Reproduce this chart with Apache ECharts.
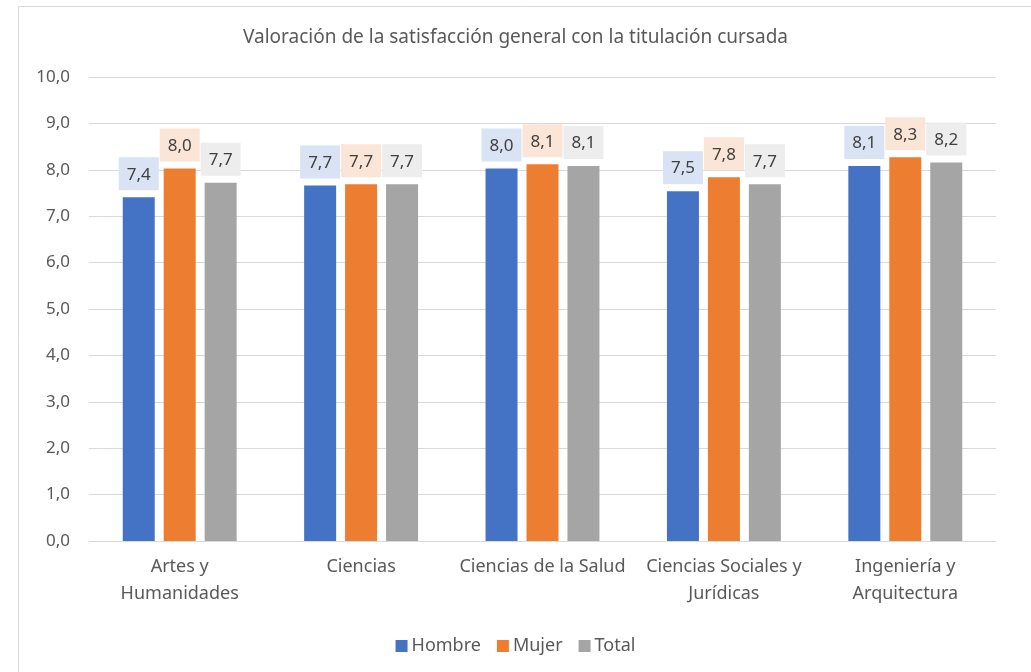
<!DOCTYPE html>
<html>
<head>
<meta charset="utf-8">
<script src="https://cdn.jsdelivr.net/npm/echarts@6/dist/echarts.min.js"></script>
<style>html,body{margin:0;padding:0;background:#fff;}#c{width:1031px;height:672px;}</style>
</head>
<body>
<div id="c"></div>
<script>
const categories = ['Artes y\nHumanidades', 'Ciencias', 'Ciencias de la Salud', 'Ciencias Sociales y\nJurídicas', 'Ingeniería y\nArquitectura'];
const hombre = [7.41, 7.66, 8.03, 7.54, 8.08];
const mujer = [8.03, 7.69, 8.12, 7.84, 8.27];
const total = [7.72, 7.69, 8.08, 7.69, 8.16];
const seriesNames = ['Hombre', 'Mujer', 'Total'];
const colors = ['#4472C4', '#ED7D31', '#A5A5A5'];
const labelBg = ['#DAE3F3', '#FBE5D6', '#EDEDED'];
const titleText = 'Valoración de la satisfacción general con la titulación cursada';

const FONT = 'Noto Sans';
const chart = echarts.init(document.getElementById('c'));
function mk(name, data, i) {
  return {
    name: name, type: 'bar', data: data,
    barWidth: 32, barGap: '28%',
    itemStyle: { color: colors[i] },
    label: {
      show: true, position: 'top', distance: 7,
      formatter: p => p.value.toFixed(1).replace('.', ','),
      color: '#404040', fontSize: 17, fontFamily: FONT,
      backgroundColor: labelBg[i], padding: [8, 8, 6, 8], lineHeight: 19
    }
  };
}
chart.setOption({
  animation: false,
  textStyle: { fontFamily: FONT },
  title: {
    text: titleText, left: 'center', top: 23,
    textStyle: { fontSize: 19, fontWeight: 'normal', color: '#595959', fontFamily: FONT }
  },
  graphic: [{
    type: 'rect', left: 16, top: 4, shape: { width: 1100, height: 700 },
    style: { fill: 'none', stroke: '#D9D9D9', lineWidth: 1 }, silent: true, z: -1
  }],
  grid: { left: 89, right: 35, top: 77, bottom: 131 },
  legend: {
    data: seriesNames, left: 'center', top: 632, itemWidth: 12, itemHeight: 12, itemGap: 16,
    icon: 'rect',
    textStyle: { fontSize: 18, color: '#595959', fontFamily: FONT, padding: [0, 0, 0, -1] }
  },
  xAxis: {
    type: 'category', data: categories,
    axisLine: { lineStyle: { color: '#D9D9D9' } },
    axisTick: { show: false },
    axisLabel: { color: '#595959', fontSize: 18, lineHeight: 27, margin: 12, fontFamily: FONT, interval: 0 }
  },
  yAxis: {
    type: 'value', min: 0, max: 10, interval: 1,
    axisLine: { show: false }, axisTick: { show: false },
    splitLine: { lineStyle: { color: '#D9D9D9' } },
    axisLabel: { color: '#595959', fontSize: 17, margin: 19, fontFamily: FONT,
      formatter: v => v.toFixed(1).replace('.', ',') }
  },
  series: [mk(seriesNames[0], hombre, 0), mk(seriesNames[1], mujer, 1), mk(seriesNames[2], total, 2)]
});
</script>
</body>
</html>
